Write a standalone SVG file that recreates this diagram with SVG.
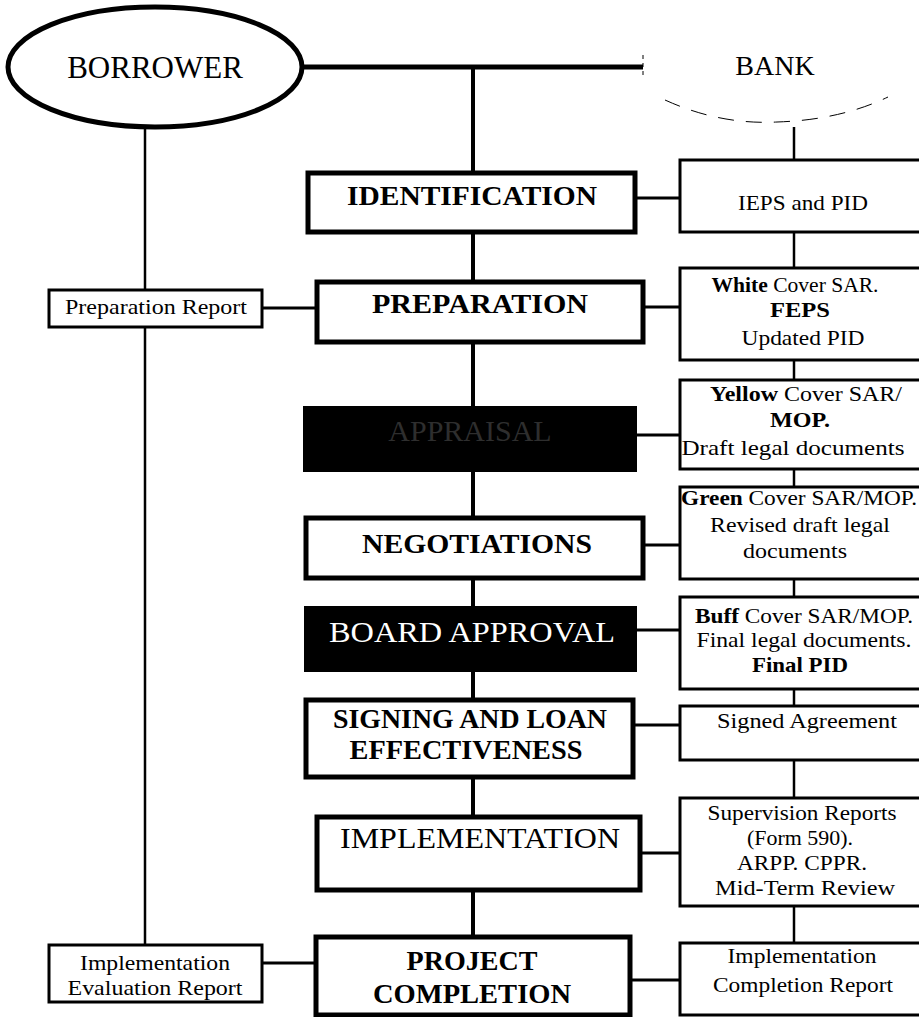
<svg xmlns="http://www.w3.org/2000/svg" width="919" height="1017" viewBox="0 0 919 1017">
<style>
.bg{fill:#fff}
.main{fill:#fff;stroke:#000;stroke-width:5}
.dark{fill:#000;stroke:#000;stroke-width:4}
.doc{fill:#fff;stroke:#000;stroke-width:3}
.rep{fill:#fff;stroke:#000;stroke-width:3}
.ln{stroke:#000;fill:none}
.t{font-family:"Liberation Serif","Times New Roman",serif;fill:#000;text-anchor:middle}
.big{font-size:30px}
.hb{font-size:28px;font-weight:bold}
.mid{font-size:22px}
.b{font-weight:bold}
</style>
<rect class="bg" x="0" y="0" width="919" height="1017"/>

<g id="connectors">
  <line class="ln" x1="300" y1="67" x2="643" y2="67" stroke-width="5"/>
  <line class="ln" x1="643" y1="55" x2="643" y2="79" stroke-width="1" stroke-dasharray="4 4"/>
  <path class="ln" d="M665,100 Q720,125 777,122 Q840,120 888,97" stroke="#777" stroke-width="1" stroke-dasharray="16 12"/>
  <g stroke-width="4">
    <line class="ln" x1="473" y1="67" x2="473" y2="173"/>
    <line class="ln" x1="473" y1="232" x2="473" y2="282"/>
    <line class="ln" x1="473" y1="342" x2="473" y2="408"/>
    <line class="ln" x1="473" y1="470" x2="473" y2="518"/>
    <line class="ln" x1="473" y1="578" x2="473" y2="608"/>
    <line class="ln" x1="473" y1="670" x2="473" y2="700"/>
    <line class="ln" x1="473" y1="777" x2="473" y2="817"/>
    <line class="ln" x1="473" y1="890" x2="473" y2="937"/>
  </g>
  <g stroke-width="2.5">
    <line class="ln" x1="794" y1="127" x2="794" y2="160"/>
    <line class="ln" x1="794" y1="232" x2="794" y2="268"/>
    <line class="ln" x1="794" y1="360" x2="794" y2="380"/>
    <line class="ln" x1="794" y1="469" x2="794" y2="487"/>
    <line class="ln" x1="794" y1="579" x2="794" y2="597"/>
    <line class="ln" x1="794" y1="689" x2="794" y2="706"/>
    <line class="ln" x1="794" y1="760" x2="794" y2="798"/>
    <line class="ln" x1="794" y1="906" x2="794" y2="943"/>
  </g>
  <g stroke-width="3">
    <line class="ln" x1="635" y1="198" x2="680" y2="198"/>
    <line class="ln" x1="643" y1="307" x2="680" y2="307"/>
    <line class="ln" x1="635" y1="435" x2="680" y2="435"/>
    <line class="ln" x1="643" y1="545" x2="680" y2="545"/>
    <line class="ln" x1="635" y1="630" x2="680" y2="630"/>
    <line class="ln" x1="633" y1="725" x2="680" y2="725"/>
    <line class="ln" x1="640" y1="853" x2="680" y2="853"/>
    <line class="ln" x1="630" y1="980" x2="680" y2="980"/>
    <line class="ln" x1="262" y1="308" x2="317" y2="308"/>
    <line class="ln" x1="262" y1="963" x2="316" y2="963"/>
  </g>
  <g stroke-width="2.5">
    <line class="ln" x1="145" y1="127" x2="145" y2="290"/>
    <line class="ln" x1="145" y1="327" x2="145" y2="945"/>
  </g>
</g>

<g id="borrower">
  <ellipse cx="155" cy="67" rx="147" ry="60" fill="#fff" stroke="#000" stroke-width="5"/>
  <text class="t" x="155" y="78" font-size="31">BORROWER</text>
</g>
<g id="bank">
  <text class="t" x="775" y="75" font-size="28">BANK</text>
</g>

<g id="identification">
  <rect class="main" x="308" y="173" width="327" height="59"/>
  <text class="t hb" x="472" y="205" textLength="250" lengthAdjust="spacingAndGlyphs">IDENTIFICATION</text>
</g>
<g id="preparation">
  <rect class="main" x="317" y="282" width="326" height="60"/>
  <text class="t hb" x="480" y="313" textLength="216" lengthAdjust="spacingAndGlyphs">PREPARATION</text>
</g>
<g id="appraisal">
  <rect class="dark" x="305" y="408" width="330" height="62"/>
  <text class="t big" x="470" y="441" style="fill:#2e2e2e">APPRAISAL</text>
</g>
<g id="negotiations">
  <rect class="main" x="306" y="518" width="337" height="60"/>
  <text class="t hb" x="477" y="553" textLength="230" lengthAdjust="spacingAndGlyphs">NEGOTIATIONS</text>
</g>
<g id="board-approval">
  <rect class="dark" x="306" y="608" width="329" height="62"/>
  <text class="t big" x="472" y="642" style="fill:#fff" textLength="286" lengthAdjust="spacingAndGlyphs">BOARD APPROVAL</text>
</g>
<g id="signing">
  <rect class="main" x="306" y="700" width="327" height="77"/>
  <text class="t hb" x="470" y="728" textLength="274" lengthAdjust="spacingAndGlyphs">SIGNING AND LOAN</text>
  <text class="t hb" x="466" y="759" textLength="233" lengthAdjust="spacingAndGlyphs">EFFECTIVENESS</text>
</g>
<g id="implementation">
  <rect class="main" x="317" y="817" width="323" height="73"/>
  <text class="t big" x="480" y="848" textLength="280" lengthAdjust="spacingAndGlyphs">IMPLEMENTATION</text>
</g>
<g id="project-completion">
  <rect class="main" x="316" y="937" width="314" height="78"/>
  <text class="t hb" x="472" y="970" textLength="131" lengthAdjust="spacingAndGlyphs">PROJECT</text>
  <text class="t hb" x="472" y="1003" textLength="198" lengthAdjust="spacingAndGlyphs">COMPLETION</text>
</g>

<g id="preparation-report">
  <rect class="rep" x="49" y="290" width="213" height="37"/>
  <text class="t" x="156" y="314" font-size="21" textLength="182" lengthAdjust="spacingAndGlyphs">Preparation Report</text>
</g>
<g id="implementation-evaluation-report">
  <rect class="rep" x="49" y="945" width="213" height="57"/>
  <text class="t" x="155" y="970" font-size="21" textLength="150" lengthAdjust="spacingAndGlyphs">Implementation</text>
  <text class="t" x="155" y="995" font-size="21" textLength="175" lengthAdjust="spacingAndGlyphs">Evaluation Report</text>
</g>

<g id="ieps-pid">
  <rect class="doc" x="680" y="160" width="260" height="72"/>
  <text class="t mid" x="803" y="210" textLength="130" lengthAdjust="spacingAndGlyphs">IEPS and PID</text>
</g>
<g id="white-cover">
  <rect class="doc" x="680" y="268" width="260" height="92"/>
  <text class="t mid" x="795" y="292" textLength="167" lengthAdjust="spacingAndGlyphs"><tspan class="b">White</tspan> Cover SAR.</text>
  <text class="t mid b" x="800" y="317" textLength="60" lengthAdjust="spacingAndGlyphs">FEPS</text>
  <text class="t mid" x="803" y="345" textLength="123" lengthAdjust="spacingAndGlyphs">Updated PID</text>
</g>
<g id="yellow-cover">
  <rect class="doc" x="680" y="380" width="260" height="89"/>
  <text class="t mid" x="806" y="401" textLength="192" lengthAdjust="spacingAndGlyphs"><tspan class="b">Yellow</tspan> Cover SAR/</text>
  <text class="t mid b" x="800" y="427" textLength="60" lengthAdjust="spacingAndGlyphs">MOP.</text>
  <text class="t mid" x="793" y="455" textLength="223" lengthAdjust="spacingAndGlyphs">Draft legal documents</text>
</g>
<g id="green-cover">
  <rect class="doc" x="680" y="487" width="260" height="92"/>
  <text class="t mid" x="799" y="505" textLength="236" lengthAdjust="spacingAndGlyphs"><tspan class="b">Green</tspan> Cover SAR/MOP.</text>
  <text class="t mid" x="800" y="532" textLength="180" lengthAdjust="spacingAndGlyphs">Revised draft legal</text>
  <text class="t mid" x="795" y="558" textLength="104" lengthAdjust="spacingAndGlyphs">documents</text>
</g>
<g id="buff-cover">
  <rect class="doc" x="680" y="597" width="260" height="92"/>
  <text class="t mid" x="804" y="623" textLength="218" lengthAdjust="spacingAndGlyphs"><tspan class="b">Buff</tspan> Cover SAR/MOP.</text>
  <text class="t mid" x="804" y="647" textLength="215" lengthAdjust="spacingAndGlyphs">Final legal documents.</text>
  <text class="t mid b" x="800" y="672" textLength="96" lengthAdjust="spacingAndGlyphs">Final PID</text>
</g>
<g id="signed-agreement">
  <rect class="doc" x="680" y="706" width="260" height="54"/>
  <text class="t mid" x="807" y="728" textLength="180" lengthAdjust="spacingAndGlyphs">Signed Agreement</text>
</g>
<g id="supervision-reports">
  <rect class="doc" x="680" y="798" width="260" height="108"/>
  <text class="t mid" x="802" y="820" textLength="189" lengthAdjust="spacingAndGlyphs">Supervision Reports</text>
  <text class="t mid" x="800" y="845" textLength="106" lengthAdjust="spacingAndGlyphs">(Form 590).</text>
  <text class="t mid" x="802" y="870" textLength="130" lengthAdjust="spacingAndGlyphs">ARPP. CPPR.</text>
  <text class="t mid" x="805" y="895" textLength="180" lengthAdjust="spacingAndGlyphs">Mid-Term Review</text>
</g>
<g id="implementation-completion-report">
  <rect class="doc" x="680" y="943" width="260" height="72"/>
  <text class="t mid" x="802" y="963" textLength="149" lengthAdjust="spacingAndGlyphs">Implementation</text>
  <text class="t mid" x="803" y="992" textLength="180" lengthAdjust="spacingAndGlyphs">Completion Report</text>
</g>
</svg>
